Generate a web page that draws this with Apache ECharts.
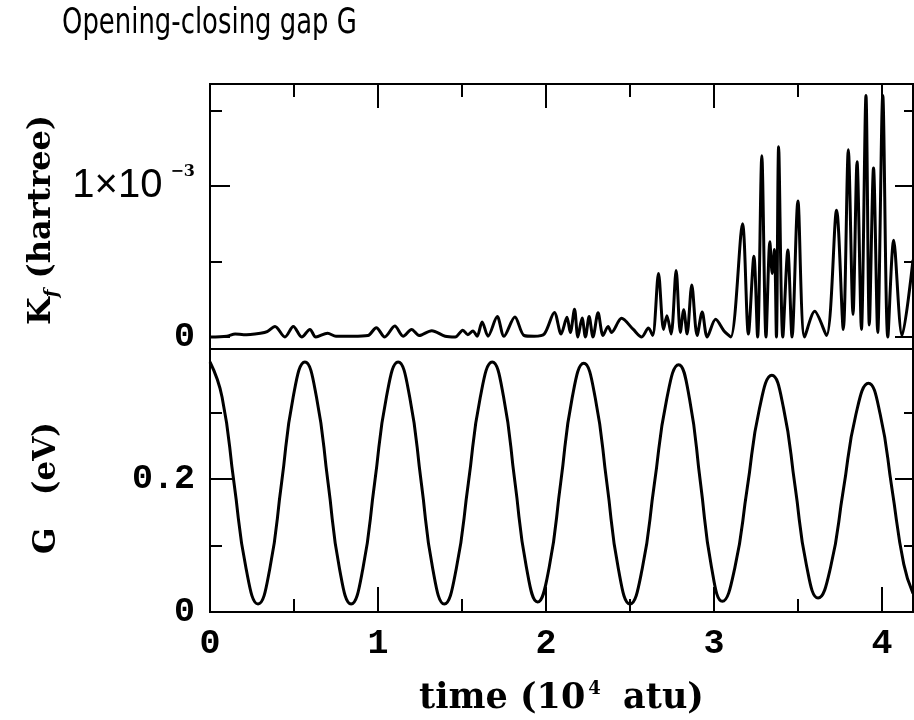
<!DOCTYPE html>
<html><head><meta charset="utf-8">
<script src="https://cdn.jsdelivr.net/npm/echarts@6/dist/echarts.min.js"></script>
<style>html,body{margin:0;padding:0;background:#fff}#c{width:914px;height:720px}</style>
</head><body><div id="c"></div>
<script>
// K_f (in units of 1e-3 hartree) vs time (1e4 atu)
const kfPoints = [
 [0,0.00],[0.10,0.005],[0.15,0.02],[0.20,0.015],[0.30,0.025],[0.34,0.035],[0.387,0.07],[0.446,0.00],
 [0.496,0.07],[0.546,0.00],[0.595,0.05],[0.63,0.00],[0.70,0.025],[0.75,0.005],[0.85,0.005],[0.94,0.01],
 [0.99,0.062],[1.04,0.00],[1.10,0.072],[1.15,0.005],[1.20,0.05],[1.245,0.01],[1.32,0.042],[1.40,0.005],
 [1.46,0.00],[1.505,0.045],[1.535,0.015],[1.565,0.04],[1.59,0.005],[1.62,0.10],[1.655,0.005],[1.71,0.135],
 [1.75,0.005],[1.815,0.133],[1.87,0.01],[1.93,0.005],[1.99,0.02],[2.05,0.163],[2.09,0.02],[2.125,0.13],
 [2.145,0.03],[2.17,0.183],[2.19,0.00],[2.215,0.126],[2.235,0.00],[2.257,0.135],[2.28,0.00],[2.31,0.16],
 [2.34,0.01],[2.37,0.07],[2.39,0.03],[2.45,0.124],[2.52,0.05],[2.57,0.00],[2.61,0.06],[2.635,0.01],
 [2.67,0.42],[2.70,0.05],[2.72,0.14],[2.745,0.02],[2.775,0.44],[2.80,0.03],[2.82,0.18],[2.84,0.02],
 [2.868,0.345],[2.90,0.01],[2.93,0.165],[2.96,0.00],[3.01,0.117],[3.06,0.04],[3.10,0.00],[3.17,0.75],
 [3.205,0.02],[3.238,0.535],[3.26,0.00],[3.285,1.20],[3.31,0.00],[3.333,0.63],[3.347,0.42],[3.36,0.58],
 [3.372,0.00],[3.385,1.26],[3.41,0.00],[3.44,0.576],[3.465,0.00],[3.50,0.90],[3.54,0.00],[3.60,0.17],
 [3.67,0.01],[3.73,0.84],[3.77,0.05],[3.80,1.24],[3.828,0.15],[3.852,1.16],[3.878,0.05],[3.905,1.60],
 [3.925,0.08],[3.95,1.12],[3.975,0.03],[4.005,1.60],[4.035,0.00],[4.07,0.64],[4.12,0.01],[4.185,0.51]
];
// Gap G (eV) vs time (1e4 atu)
const gTime = [0,0.072,0.143,0.215,0.286,0.356,0.426,0.495,0.565,0.634,0.703,0.771,0.84,0.91,0.98,1.05,1.12,
 1.189,1.258,1.326,1.395,1.466,1.538,1.609,1.68,1.748,1.815,1.883,1.95,2.019,2.088,2.156,2.225,2.294,2.363,2.431,
 2.50,2.573,2.645,2.718,2.79,2.855,2.92,2.985,3.05,3.124,3.198,3.271,3.345,3.414,3.483,3.551,3.62,3.695,3.77,
 3.845,3.92,3.99,4.06,4.13,4.185];
const gValue = [0.376,0.323,0.194,0.065,0.012,0.065,0.194,0.323,0.376,0.323,0.194,0.065,0.012,0.065,0.194,0.323,0.376,
 0.323,0.194,0.065,0.012,0.065,0.194,0.323,0.376,0.323,0.196,0.068,0.015,0.067,0.195,0.322,0.374,0.321,0.193,0.065,
 0.012,0.065,0.192,0.319,0.372,0.320,0.194,0.068,0.016,0.066,0.186,0.306,0.356,0.307,0.189,0.07,0.021,0.068,0.183,
 0.297,0.344,0.297,0.185,0.072,0.028];

const xMajorTicks = [0,1,2,3,4];
const xMinorTicks = [0.5,1.5,2.5,3.5];
const kfMajorTicks = [0,1];
const kfMinorTicks = [0.5,1.5];
const gMajorTicks = [0,0.2];
const gMinorTicks = [0.1,0.3];

const X_MIN = 0, X_MAX = 4.185;
const KF_MIN = -0.0795, KF_MAX = 1.6755;
const G_MIN = 0, G_MAX = 0.3955;

const numFont = {fontFamily:'Liberation Mono', fontWeight:'bold', fontSize:35, color:'#000'};
const nameFont = {fontFamily:'DejaVu Serif', fontWeight:'bold', fontSize:31, color:'#000'};

function axisDef(grid, pos, ticks, len, min, max, extra) {
  const a = {
    type:'value', gridIndex:grid, position:pos, min:min, max:max,
    axisLine:{show:true, onZero:false, lineStyle:{color:'#000', width:2}},
    axisTick:{show:ticks.length>0, inside:true, length:len, customValues:ticks.length?ticks:undefined,
              lineStyle:{color:'#000', width:2}},
    axisLabel:{show:false}, splitLine:{show:false}, minorTick:{show:false}
  };
  return Object.assign(a, extra||{});
}

const xAxes = [
  // grid 0 (top panel)
  axisDef(0,'top',xMajorTicks,24,X_MIN,X_MAX),
  axisDef(0,'top',xMinorTicks,13,X_MIN,X_MAX),
  axisDef(0,'bottom',[],0,X_MIN,X_MAX),
  // grid 1 (bottom panel)
  axisDef(1,'bottom',xMajorTicks,25,X_MIN,X_MAX,{
    axisLabel:{show:true, customValues:xMajorTicks, margin:15, ...numFont},
    name:'{a|time (10}{s|4}{a| atu)}', nameLocation:'middle', nameGap:68,
    nameTextStyle:{rich:{a:{...nameFont, fontSize:35, lineHeight:38}, s:{...nameFont, fontSize:18, verticalAlign:'top', lineHeight:38, padding:[0,10,0,3]}}}
  }),
  axisDef(1,'bottom',xMinorTicks,13,X_MIN,X_MAX),
  axisDef(1,'top',[],0,X_MIN,X_MAX)
];
const yAxes = [
  axisDef(0,'left',kfMajorTicks,20,KF_MIN,KF_MAX,{
    axisLabel:{show:true, customValues:kfMajorTicks, margin:15,
      formatter:v => v===0 ? '{z|0}' : '{m|1×10}{s|−3}',
      rich:{z:{...numFont}, m:{fontFamily:'Liberation Sans', fontSize:40, color:'#000', padding:[0,8,0,0]},
            s:{fontFamily:'DejaVu Serif', fontWeight:'bold', fontSize:16, color:'#000', verticalAlign:'top', lineHeight:44}}},
    name:'{k|K}{f|f}{k| (hartree)}', nameLocation:'middle', nameGap:148,
    nameTextStyle:{padding:[0,7,0,0], rich:{k:{...nameFont, fontSize:32, lineHeight:40}, f:{...nameFont, fontStyle:'italic', fontSize:18, verticalAlign:'bottom', lineHeight:40}}}
  }),
  axisDef(0,'left',kfMinorTicks,12,KF_MIN,KF_MAX),
  axisDef(0,'right',kfMajorTicks,18,KF_MIN,KF_MAX),
  axisDef(0,'right',kfMinorTicks,9,KF_MIN,KF_MAX),
  axisDef(1,'left',gMajorTicks,23,G_MIN,G_MAX,{
    axisLabel:{show:true, customValues:gMajorTicks, margin:15, ...numFont, formatter:v => v===0?'0':String(v)},
    name:'G   (eV)', nameLocation:'middle', nameGap:148,
    nameTextStyle:{...nameFont, padding:[0,15,0,0]}
  }),
  axisDef(1,'left',gMinorTicks,12,G_MIN,G_MAX),
  axisDef(1,'right',gMajorTicks,18,G_MIN,G_MAX),
  axisDef(1,'right',gMinorTicks,9,G_MIN,G_MAX)
];

const chart = echarts.init(document.getElementById('c'), null, {renderer:'canvas'});
chart.setOption({
  animation:false,
  backgroundColor:'#fff',
  graphic:[{
    type:'text', x:62, y:6, scaleX:0.8, scaleY:1,
    style:{text:'Opening-closing gap G', fontSize:36, fontFamily:'DejaVu Sans Condensed, Liberation Sans Narrow, DejaVu Sans',
           fill:'#000', verticalAlign:'top', align:'left'}
  }],
  grid:[
    {left:210, top:84, width:703, height:265},
    {left:210, top:349, width:703, height:263}
  ],
  xAxis:xAxes,
  yAxis:yAxes,
  series:[
    {type:'line', xAxisIndex:0, yAxisIndex:0, data:kfPoints, showSymbol:false, smooth:0.3,
     lineStyle:{color:'#000', width:3}, clip:true},
    {type:'line', xAxisIndex:3, yAxisIndex:4, data:gTime.map((t,i)=>[t,gValue[i]]), showSymbol:false, smooth:0.5,
     lineStyle:{color:'#000', width:3}, clip:true}
  ]
});
</script></body></html>
